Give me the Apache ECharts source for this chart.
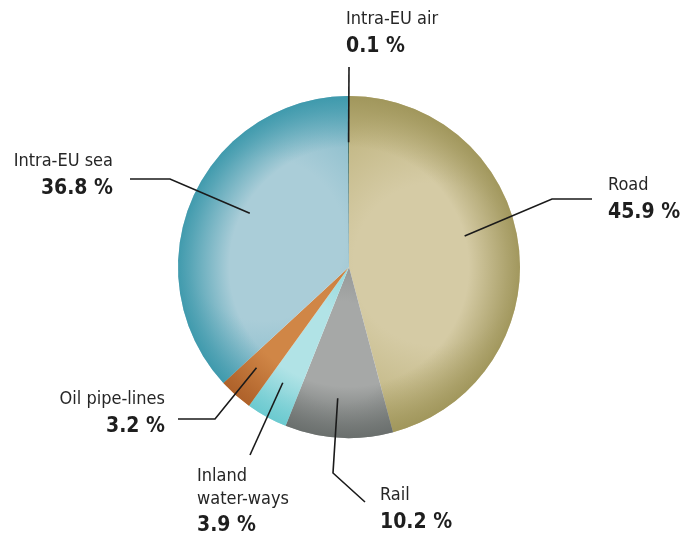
<!DOCTYPE html>
<html>
<head>
<meta charset="utf-8">
<script src="https://cdn.jsdelivr.net/npm/echarts@6/dist/echarts.min.js"></script>
<style>
  html, body { margin: 0; padding: 0; background: #ffffff; }
  #chart { width: 683px; height: 538px; }
</style>
</head>
<body>
<div id="chart"></div>
<script>
// Freight transport modal split (share of tonne-km), clockwise from the top
const modes = ['Road', 'Rail', 'Inland\nwater-ways', 'Oil pipe-lines', 'Intra-EU sea', 'Intra-EU air'];
const shares = [45.9, 10.2, 3.9, 3.2, 36.8, 0.1];

// Slice shading: light centre, mid tone towards the slice edges, dark outer rim
const toneLight = ['#d5cba5', '#a6a8a7', '#b1e3e6', '#d08646', '#aacdd8', '#1f4d3c'];
const toneMid   = ['#c0b581', '#8e9190', '#93d8dc', '#c47836', '#80b8c8', '#1f4d3c'];
const toneRim   = ['#9f955a', '#686d6b', '#69c9cf', '#ad6029', '#3b98ab', '#1f4d3c'];

const CX = 349, CY = 267, R = 171;

// Leader line and label placement for each slice:
// inner = fraction of the radius where the leader starts inside the slice,
// turn = degrees the start point is rotated from the slice's mid-angle,
// path = remaining leader vertices, at = label anchor
const leaders = [
  { inner: 0.70, turn: -7.5, path: [[552, 199], [592, 199]], at: [608, 201], align: 'left' },
  { inner: 0.77, turn: 1.5, path: [[333, 473], [365, 502]], at: [380, 511], align: 'left' },
  { inner: 0.78, turn: 1, path: [[250, 455]], at: [197, 503], align: 'left' },
  { inner: 0.80, turn: 1, path: [[215, 419], [178, 419]], at: [165, 415], align: 'right' },
  { inner: 0.66, turn: 5, path: [[170, 179], [130, 179]], at: [113, 177], align: 'right' },
  { inner: 0.73, turn: 0, path: [[CX, 67]], at: [346, 35], align: 'left' }
];

const total = shares.reduce((a, b) => a + b, 0);

function midAngle(idx) {
  let before = 0;
  for (let i = 0; i < idx; i++) before += shares[i];
  return (before + shares[idx] / 2) / total * 2 * Math.PI;
}

function hexToRgba(hex, a) {
  const n = parseInt(hex.slice(1), 16);
  return 'rgba(' + ((n >> 16) & 255) + ',' + ((n >> 8) & 255) + ',' + (n & 255) + ',' + a + ')';
}

// Base slices: each slice lighter in its middle, deeper towards its sides
const baseData = modes.map((name, i) => ({
  name: name,
  value: shares[i],
  itemStyle: {
    color: {
      type: 'radial', x: 0.5, y: 0.5, r: 0.95,
      colorStops: [
        { offset: 0, color: toneLight[i] },
        { offset: 0.5, color: toneLight[i] },
        { offset: 1, color: toneMid[i] }
      ]
    }
  }
}));

// Rim shading laid over the base slices, darkening towards the circumference
const rimData = modes.map((name, i) => ({
  name: name,
  value: shares[i],
  itemStyle: {
    color: {
      type: 'radial', x: CX, y: CY, r: R, global: true,
      colorStops: [
        { offset: 0, color: hexToRgba(toneRim[i], 0) },
        { offset: 0.7, color: hexToRgba(toneRim[i], 0) },
        { offset: 0.93, color: hexToRgba(toneRim[i], 0.75) },
        { offset: 1, color: hexToRgba(toneRim[i], 0.95) }
      ]
    }
  }
}));

// Transparent copy carrying the labels so the leaders sit above the slices
const labelData = modes.map((name, i) => ({ name: name, value: shares[i] }));

const pieCommon = {
  type: 'pie',
  center: [CX, CY],
  radius: [0, R],
  startAngle: 90,
  clockwise: true,
  avoidLabelOverlap: false,
  animation: false
};

const chart = echarts.init(document.getElementById('chart'), null, { renderer: 'canvas' });

chart.setOption({
  backgroundColor: '#ffffff',
  animation: false,
  series: [
    Object.assign({}, pieCommon, {
      z: 1,
      silent: true,
      data: baseData,
      itemStyle: { borderWidth: 0 },
      label: { show: false },
      labelLine: { show: false }
    }),
    Object.assign({}, pieCommon, {
      z: 2,
      silent: true,
      data: rimData,
      itemStyle: { borderWidth: 0 },
      label: { show: false },
      labelLine: { show: false }
    }),
    Object.assign({}, pieCommon, {
      z: 3,
      silent: true,
      data: labelData,
      itemStyle: { color: 'rgba(0,0,0,0)', borderWidth: 0 },
      label: {
        show: true,
        position: 'outside',
        fontFamily: 'DejaVu Sans Condensed',
        color: '#222222',
        formatter: p => {
          const names = p.name.split('\n').map(s => '{n|' + s + '}').join('\n');
          return names + '\n{v|' + p.value.toFixed(1) + ' %}';
        },
        rich: {
          n: { fontSize: 18, lineHeight: 23, color: '#262626', fontFamily: 'DejaVu Sans Condensed' },
          v: { fontSize: 21, lineHeight: 31, fontWeight: 'bold', color: '#1e1e1e', fontFamily: 'DejaVu Sans Condensed' }
        }
      },
      labelLine: {
        show: true,
        length: 20,
        length2: 20,
        lineStyle: { color: '#1a1a1a', width: 1.6 }
      },
      labelLayout: params => {
        const i = params.dataIndex;
        const cfg = leaders[i];
        let ang;
        const pts = params.labelLinePoints;
        if (pts && pts[0]) {
          // clockwise angle from the top, taken from the library's own leader start
          ang = Math.atan2(pts[0][0] - CX, -(pts[0][1] - CY));
        } else {
          ang = midAngle(i);
        }
        ang += cfg.turn * Math.PI / 180;
        const start = [CX + Math.sin(ang) * R * cfg.inner, CY - Math.cos(ang) * R * cfg.inner];
        return {
          x: cfg.at[0],
          y: cfg.at[1],
          align: cfg.align,
          verticalAlign: 'middle',
          labelLinePoints: [start].concat(cfg.path)
        };
      }
    })
  ]
});
</script>
</body>
</html>
